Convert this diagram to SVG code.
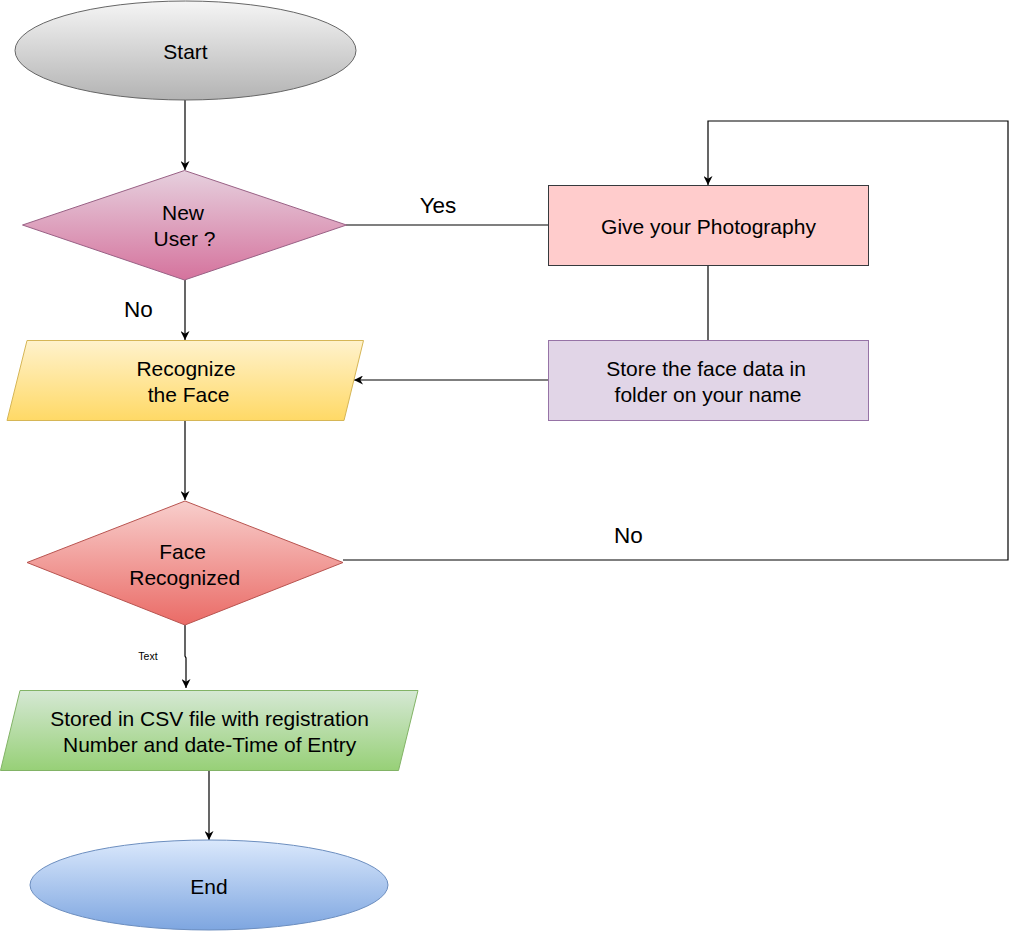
<svg xmlns="http://www.w3.org/2000/svg" width="1017" height="931" viewBox="0 0 1017 931">
<style>
  text { font-family: "Liberation Sans", Arial, sans-serif; font-size: 21px; fill: #000; text-anchor: middle; }
  .lbl { font-size: 22.5px; }
  .small { font-size: 10.5px; }
  .edge { fill: none; stroke: #000; stroke-width: 1.2; }
</style>
<defs>
  <linearGradient id="gGray" x1="0" y1="0" x2="0" y2="1"><stop offset="0" stop-color="#f5f5f5"/><stop offset="1" stop-color="#b3b3b3"/></linearGradient>
  <linearGradient id="gPink" x1="0" y1="0" x2="0" y2="1"><stop offset="0" stop-color="#e6d0de"/><stop offset="1" stop-color="#d5739d"/></linearGradient>
  <linearGradient id="gYellow" x1="0" y1="0" x2="0" y2="1"><stop offset="0" stop-color="#fff2cc"/><stop offset="1" stop-color="#ffd966"/></linearGradient>
  <linearGradient id="gRed" x1="0" y1="0" x2="0" y2="1"><stop offset="0" stop-color="#f8cecc"/><stop offset="1" stop-color="#ea6b66"/></linearGradient>
  <linearGradient id="gGreen" x1="0" y1="0" x2="0" y2="1"><stop offset="0" stop-color="#d5e8d4"/><stop offset="1" stop-color="#97d077"/></linearGradient>
  <linearGradient id="gBlue" x1="0" y1="0" x2="0" y2="1"><stop offset="0" stop-color="#dae8fc"/><stop offset="1" stop-color="#7ea6e0"/></linearGradient>
  <marker id="arr" viewBox="0 0 10 10" refX="10" refY="5" markerWidth="9" markerHeight="9" markerUnits="userSpaceOnUse" orient="auto">
    <path d="M0,0 L10,5 L0,10 L3,5 Z" fill="#000"/>
  </marker>
</defs>

<g id="connectors">
  <line class="edge" x1="185" y1="100" x2="185" y2="170" marker-end="url(#arr)"/>
  <line class="edge" x1="346" y1="225" x2="548" y2="225"/>
  <line class="edge" x1="708" y1="265" x2="708" y2="340"/>
  <line class="edge" x1="548" y1="380" x2="354" y2="380" marker-end="url(#arr)"/>
  <line class="edge" x1="185" y1="280" x2="185" y2="340" marker-end="url(#arr)"/>
  <line class="edge" x1="185" y1="420" x2="185" y2="500" marker-end="url(#arr)"/>
  <polyline class="edge" points="343,560 1008,560 1008,121 708,121 708,185" marker-end="url(#arr)"/>
  <polyline class="edge" points="185,625 185,656 186,658 186,688" marker-end="url(#arr)"/>
  <line class="edge" x1="209" y1="770" x2="209" y2="840" marker-end="url(#arr)"/>
  <text class="lbl" x="438" y="213.3">Yes</text>
  <text class="lbl" x="138.5" y="316.5">No</text>
  <text class="lbl" x="628.5" y="543.3">No</text>
  <text class="small" x="148" y="660">Text</text>
</g>

<g id="start">
  <ellipse cx="185.5" cy="50.5" rx="170.5" ry="49.5" fill="url(#gGray)" stroke="#666666" stroke-width="1"/>
  <text x="185.5" y="59">Start</text>
</g>

<g id="new-user">
  <polygon points="184.5,170.5 346.5,225 184.5,280 22.5,225" fill="url(#gPink)" stroke="#996185" stroke-width="1"/>
  <text x="183" y="220">New</text>
  <text x="184.5" y="246">User ?</text>
</g>

<g id="give-photo">
  <rect x="548.5" y="185.5" width="320" height="80" fill="#ffcccc" stroke="#36393d" stroke-width="1"/>
  <text x="708.5" y="234">Give your Photography</text>
</g>

<g id="store-face">
  <rect x="548.5" y="340.5" width="320" height="80" fill="#e1d5e7" stroke="#9673a6" stroke-width="1"/>
  <text x="706" y="376">Store the face data in</text>
  <text x="708" y="402">folder on your name</text>
</g>

<g id="recognize">
  <polygon points="27,340.5 363.5,340.5 344,420.5 7,420.5" fill="url(#gYellow)" stroke="#d6b656" stroke-width="1"/>
  <text x="186" y="376">Recognize</text>
  <text x="188.5" y="402">the Face</text>
</g>

<g id="face-recognized">
  <polygon points="185,501 343,562.5 185,625 27,562.5" fill="url(#gRed)" stroke="#b85450" stroke-width="1"/>
  <text x="182.5" y="559">Face</text>
  <text x="184.7" y="585">Recognized</text>
</g>

<g id="stored-csv">
  <polygon points="20,690.5 418,690.5 398.5,770.5 0.5,770.5" fill="url(#gGreen)" stroke="#82b366" stroke-width="1"/>
  <text x="209.5" y="726">Stored in CSV file with registration</text>
  <text x="209.7" y="752">Number and date-Time of Entry</text>
</g>

<g id="end">
  <ellipse cx="209" cy="885" rx="179" ry="45" fill="url(#gBlue)" stroke="#6c8ebf" stroke-width="1"/>
  <text x="209" y="893.5">End</text>
</g>
</svg>
